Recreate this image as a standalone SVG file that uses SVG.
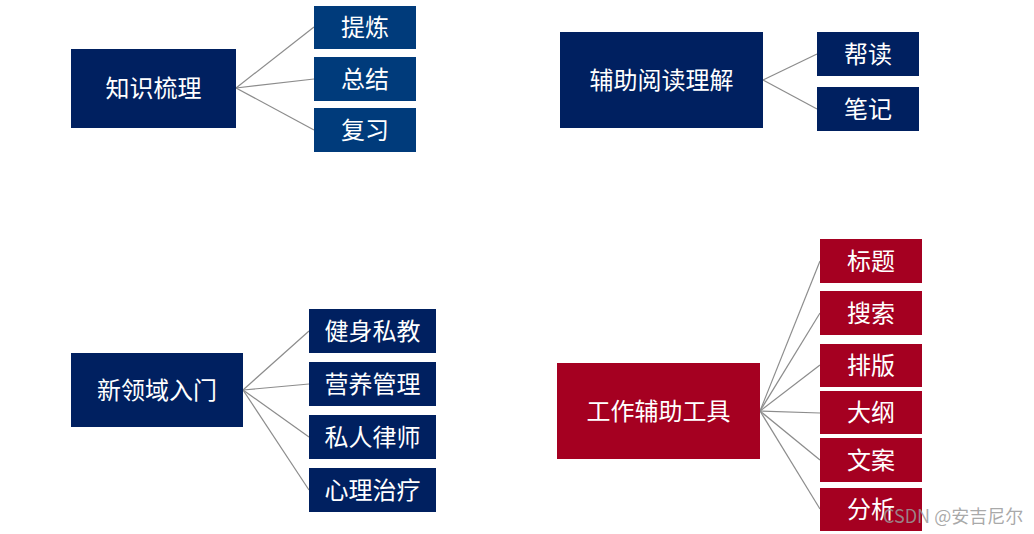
<svg xmlns="http://www.w3.org/2000/svg" width="1034" height="534" viewBox="0 0 1034 534">
<style>
.navy{fill:#002060}
.blue{fill:#003B7B}
.red{fill:#A50021}
text{font-family:"Noto Sans CJK SC","Microsoft YaHei",sans-serif;font-size:24px;fill:#ffffff;text-anchor:middle;dominant-baseline:central}
.conn line{stroke:#8C8C8C;stroke-width:1.2}
.wm{font-family:"Noto Sans CJK SC",sans-serif;font-size:18px;fill:#9a9a9a;fill-opacity:0.85;text-anchor:start;dominant-baseline:auto}
</style>
<rect width="1034" height="534" fill="#ffffff"/>
<g class="conn" id="connectors">
<line x1="236" y1="88" x2="314" y2="27"/>
<line x1="236" y1="88" x2="314" y2="79"/>
<line x1="236" y1="88" x2="314" y2="130"/>
<line x1="763" y1="80" x2="817" y2="54"/>
<line x1="763" y1="80" x2="817" y2="109"/>
<line x1="243" y1="390" x2="309" y2="331"/>
<line x1="243" y1="390" x2="309" y2="384"/>
<line x1="243" y1="390" x2="309" y2="437"/>
<line x1="243" y1="390" x2="309" y2="490"/>
<line x1="760" y1="411" x2="820" y2="261"/>
<line x1="760" y1="411" x2="820" y2="313"/>
<line x1="760" y1="411" x2="820" y2="365"/>
<line x1="760" y1="411" x2="820" y2="413"/>
<line x1="760" y1="411" x2="820" y2="460"/>
<line x1="760" y1="411" x2="820" y2="509"/>
</g>
<g id="n-zhishi"><rect class="navy" x="71" y="49" width="165" height="79"/><text x="153.5" y="86.5">知识梳理</text></g>
<g id="n-tilian"><rect class="blue" x="314" y="6" width="102" height="43"/><text x="365" y="25.5">提炼</text></g>
<g id="n-zongjie"><rect class="blue" x="314" y="57" width="102" height="44"/><text x="365" y="77">总结</text></g>
<g id="n-fuxi"><rect class="blue" x="314" y="108" width="102" height="44"/><text x="365" y="128">复习</text></g>

<g id="n-fuzhu"><rect class="navy" x="560" y="32" width="203" height="96"/><text x="661.5" y="78">辅助阅读理解</text></g>
<g id="n-bangdu"><rect class="navy" x="817" y="32" width="102" height="44"/><text x="868" y="52">帮读</text></g>
<g id="n-biji"><rect class="navy" x="817" y="87" width="102" height="44"/><text x="868" y="107">笔记</text></g>

<g id="n-xinlingyu"><rect class="navy" x="71" y="353" width="172" height="74"/><text x="157" y="388">新领域入门</text></g>
<g id="n-jianshen"><rect class="navy" x="309" y="309" width="127" height="44"/><text x="372.5" y="329">健身私教</text></g>
<g id="n-yingyang"><rect class="navy" x="309" y="362" width="127" height="44"/><text x="372.5" y="382">营养管理</text></g>
<g id="n-lvshi"><rect class="navy" x="309" y="415" width="127" height="44"/><text x="372.5" y="435">私人律师</text></g>
<g id="n-xinli"><rect class="navy" x="309" y="468" width="127" height="44"/><text x="372.5" y="488">心理治疗</text></g>

<g id="n-gongzuo"><rect class="red" x="557" y="363" width="203" height="96"/><text x="658.5" y="409">工作辅助工具</text></g>
<g id="n-biaoti"><rect class="red" x="820" y="239" width="102" height="44"/><text x="871" y="259">标题</text></g>
<g id="n-sousuo"><rect class="red" x="820" y="291" width="102" height="44"/><text x="871" y="311">搜索</text></g>
<g id="n-paiban"><rect class="red" x="820" y="344" width="102" height="43"/><text x="871" y="363.5">排版</text></g>
<g id="n-dagang"><rect class="red" x="820" y="391" width="102" height="43"/><text x="871" y="410.5">大纲</text></g>
<g id="n-wenan"><rect class="red" x="820" y="438" width="102" height="44"/><text x="871" y="458">文案</text></g>
<g id="n-fenxi"><rect class="red" x="820" y="488" width="102" height="43"/><text x="871" y="507.5">分析</text></g>

<text class="wm" x="883" y="523">CSDN @安吉尼尔</text>
</svg>
